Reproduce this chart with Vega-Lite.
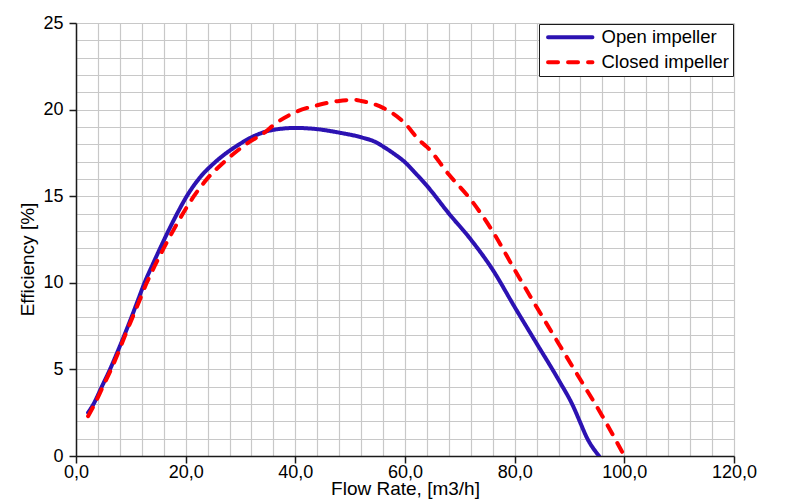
{
  "$schema": "https://vega.github.io/schema/vega-lite/v6.json",
  "width": 658,
  "height": 433,
  "autosize": {"type": "none"},
  "padding": {"left": 76, "top": 23, "right": 65, "bottom": 46},
  "background": "white",
  "config": {
    "font": "Liberation Sans",
    "view": {"stroke": null},
    "axis": {
      "labelFont": "Liberation Sans",
      "titleFont": "Liberation Sans",
      "labelColor": "#000000",
      "titleColor": "#000000",
      "titleFontWeight": "normal",
      "labelFontSize": 18,
      "gridColor": "#c8c8c8",
      "gridWidth": 1.2,
      "gridOpacity": 1,
      "domainColor": "#1a1a1a",
      "domainWidth": 1.5,
      "tickColor": "#1a1a1a",
      "tickWidth": 1.5,
      "tickSize": 7,
      "labelOverlap": false,
      "labelBound": false,
      "labelFlush": false
    }
  },
  "data": {
    "values": [
      {"series": "Open impeller", "flow": 2.2, "eff": 2.5},
      {"series": "Open impeller", "flow": 3.2, "eff": 3.0},
      {"series": "Open impeller", "flow": 4.7, "eff": 4.0},
      {"series": "Open impeller", "flow": 6.2, "eff": 5.0},
      {"series": "Open impeller", "flow": 7.55, "eff": 6.0},
      {"series": "Open impeller", "flow": 8.85, "eff": 7.0},
      {"series": "Open impeller", "flow": 10.1, "eff": 8.0},
      {"series": "Open impeller", "flow": 11.3, "eff": 9.0},
      {"series": "Open impeller", "flow": 12.5, "eff": 10.0},
      {"series": "Open impeller", "flow": 13.9, "eff": 11.0},
      {"series": "Open impeller", "flow": 15.35, "eff": 12.0},
      {"series": "Open impeller", "flow": 16.85, "eff": 13.0},
      {"series": "Open impeller", "flow": 18.45, "eff": 14.0},
      {"series": "Open impeller", "flow": 20.2, "eff": 15.0},
      {"series": "Open impeller", "flow": 22.4, "eff": 16.0},
      {"series": "Open impeller", "flow": 25.5, "eff": 17.0},
      {"series": "Open impeller", "flow": 29.8, "eff": 18.0},
      {"series": "Open impeller", "flow": 32.0, "eff": 18.4},
      {"series": "Open impeller", "flow": 36.0, "eff": 18.83},
      {"series": "Open impeller", "flow": 40.0, "eff": 18.94},
      {"series": "Open impeller", "flow": 44.0, "eff": 18.87},
      {"series": "Open impeller", "flow": 48.0, "eff": 18.67},
      {"series": "Open impeller", "flow": 52.0, "eff": 18.4},
      {"series": "Open impeller", "flow": 54.8, "eff": 18.1},
      {"series": "Open impeller", "flow": 56.0, "eff": 17.87},
      {"series": "Open impeller", "flow": 58.0, "eff": 17.45},
      {"series": "Open impeller", "flow": 60.0, "eff": 16.96},
      {"series": "Open impeller", "flow": 62.0, "eff": 16.3},
      {"series": "Open impeller", "flow": 64.0, "eff": 15.6},
      {"series": "Open impeller", "flow": 68.0, "eff": 14.0},
      {"series": "Open impeller", "flow": 72.0, "eff": 12.5},
      {"series": "Open impeller", "flow": 76.0, "eff": 10.75},
      {"series": "Open impeller", "flow": 80.0, "eff": 8.6},
      {"series": "Open impeller", "flow": 84.0, "eff": 6.5},
      {"series": "Open impeller", "flow": 88.0, "eff": 4.4},
      {"series": "Open impeller", "flow": 90.7, "eff": 2.85},
      {"series": "Open impeller", "flow": 92.0, "eff": 1.9},
      {"series": "Open impeller", "flow": 93.1, "eff": 1.1},
      {"series": "Open impeller", "flow": 95.4, "eff": 0.0},
      {"series": "Closed impeller", "flow": 2.2, "eff": 2.3},
      {"series": "Closed impeller", "flow": 3.4, "eff": 3.0},
      {"series": "Closed impeller", "flow": 4.9, "eff": 4.0},
      {"series": "Closed impeller", "flow": 6.4, "eff": 5.0},
      {"series": "Closed impeller", "flow": 7.75, "eff": 6.0},
      {"series": "Closed impeller", "flow": 9.0, "eff": 7.0},
      {"series": "Closed impeller", "flow": 10.3, "eff": 8.0},
      {"series": "Closed impeller", "flow": 11.6, "eff": 9.0},
      {"series": "Closed impeller", "flow": 12.9, "eff": 10.0},
      {"series": "Closed impeller", "flow": 14.4, "eff": 11.0},
      {"series": "Closed impeller", "flow": 16.0, "eff": 12.0},
      {"series": "Closed impeller", "flow": 17.7, "eff": 13.0},
      {"series": "Closed impeller", "flow": 19.5, "eff": 14.0},
      {"series": "Closed impeller", "flow": 21.5, "eff": 15.0},
      {"series": "Closed impeller", "flow": 23.9, "eff": 16.0},
      {"series": "Closed impeller", "flow": 27.1, "eff": 17.0},
      {"series": "Closed impeller", "flow": 31.0, "eff": 18.0},
      {"series": "Closed impeller", "flow": 34.7, "eff": 18.75},
      {"series": "Closed impeller", "flow": 36.0, "eff": 19.1},
      {"series": "Closed impeller", "flow": 40.0, "eff": 19.85},
      {"series": "Closed impeller", "flow": 44.0, "eff": 20.25},
      {"series": "Closed impeller", "flow": 48.0, "eff": 20.5},
      {"series": "Closed impeller", "flow": 51.0, "eff": 20.56},
      {"series": "Closed impeller", "flow": 52.0, "eff": 20.5},
      {"series": "Closed impeller", "flow": 56.0, "eff": 20.1},
      {"series": "Closed impeller", "flow": 60.0, "eff": 19.2},
      {"series": "Closed impeller", "flow": 62.7, "eff": 18.2},
      {"series": "Closed impeller", "flow": 64.0, "eff": 17.85},
      {"series": "Closed impeller", "flow": 68.0, "eff": 16.25},
      {"series": "Closed impeller", "flow": 72.0, "eff": 14.8},
      {"series": "Closed impeller", "flow": 76.0, "eff": 12.96},
      {"series": "Closed impeller", "flow": 80.0, "eff": 10.75},
      {"series": "Closed impeller", "flow": 84.0, "eff": 8.6},
      {"series": "Closed impeller", "flow": 88.0, "eff": 6.5},
      {"series": "Closed impeller", "flow": 92.0, "eff": 4.4},
      {"series": "Closed impeller", "flow": 96.0, "eff": 2.3},
      {"series": "Closed impeller", "flow": 100.0, "eff": 0.0}
    ]
  },
  "mark": {"type": "line", "interpolate": "monotone", "strokeWidth": 4, "strokeCap": "round", "clip": true},
  "encoding": {
    "x": {
      "field": "flow",
      "type": "quantitative",
      "scale": {"domain": [0, 120], "nice": false, "zero": true},
      "axis": {
        "title": "Flow Rate, [m3/h]",
        "titleFontSize": 19,
        "titlePadding": -2,
        "labelPadding": 0,
        "values": [0, 4, 8, 12, 16, 20, 24, 28, 32, 36, 40, 44, 48, 52, 56, 60, 64, 68, 72, 76, 80, 84, 88, 92, 96, 100, 104, 108, 112, 116, 120],
        "labelExpr": "datum.value % 20 === 0 ? replace(format(datum.value, '.1f'), '.', ',') : ''",
        "tickOpacity": {"condition": {"test": "datum.value % 20 !== 0", "value": 0}, "value": 1}
      }
    },
    "y": {
      "field": "eff",
      "type": "quantitative",
      "scale": {"domain": [0, 25], "nice": false},
      "axis": {
        "title": "Efficiency [%]",
        "titleFontSize": 19,
        "titlePadding": 5,
        "titleY": 236,
        "labelPadding": 6,
        "values": [0, 1, 2, 3, 4, 5, 6, 7, 8, 9, 10, 11, 12, 13, 14, 15, 16, 17, 18, 19, 20, 21, 22, 23, 24, 25],
        "labelExpr": "datum.value % 5 === 0 ? format(datum.value, 'd') : ''",
        "tickOpacity": {"condition": {"test": "datum.value % 5 !== 0", "value": 0}, "value": 1}
      }
    },
    "color": {
      "field": "series",
      "type": "nominal",
      "scale": {"domain": ["Open impeller", "Closed impeller"], "range": ["#2c12b2", "#ff0000"]},
      "legend": {
        "title": null,
        "orient": "top-right",
        "offset": 1,
        "padding": 4,
        "rowPadding": 6,
        "fillColor": "#ffffff",
        "strokeColor": "#1a1a1a",
        "symbolType": "M-0.7,0H6.7",
        "symbolSize": 144,
        "symbolStrokeWidth": 4,
        "labelFont": "Liberation Sans",
        "labelFontSize": 18.5,
        "labelColor": "#000000",
        "labelOffset": 40,
        "encode": {"symbols": {"update": {"strokeCap": {"value": "round"}}}}
      }
    },
    "strokeDash": {
      "field": "series",
      "type": "nominal",
      "scale": {"domain": ["Open impeller", "Closed impeller"], "range": [[1, 0], [10, 10]]},
      "legend": null
    }
  }
}
